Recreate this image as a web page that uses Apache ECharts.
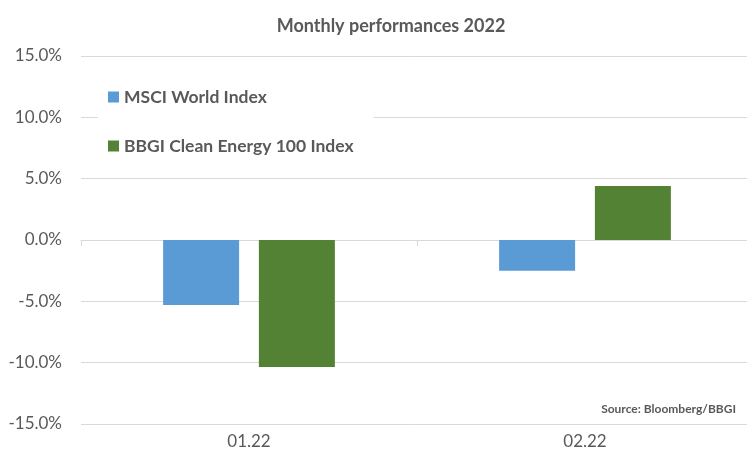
<!DOCTYPE html>
<html>
<head>
<meta charset="utf-8">
<script src="https://cdn.jsdelivr.net/npm/echarts@6/dist/echarts.min.js"></script>
<style>
  html, body { margin: 0; padding: 0; background: #fff; }
  #chart { width: 747px; height: 459px; }
</style>
</head>
<body>
<div id="chart"></div>
<script>
// monthly performance, in %
var months = ['01.22', '02.22'];
var msciWorld = [-5.3, -2.5];
var bbgiCleanEnergy = [-10.35, 4.4];
var seriesNames = ['MSCI World Index', 'BBGI Clean Energy 100 Index'];

var textColor = '#595959';
var fontName = 'Lato';

var myChart = echarts.init(document.getElementById('chart'));
var option = {
    backgroundColor: '#ffffff',
    animation: false,
    title: {
        text: 'Monthly performances 2022',
        left: 386,
        textAlign: 'center',
        top: 12,
        textStyle: { color: textColor, fontFamily: fontName, fontSize: 18, fontWeight: 'bold' }
    },
    legend: {
        data: seriesNames,
        orient: 'vertical',
        left: 98,
        top: 80,
        itemWidth: 11,
        itemHeight: 11,
        itemGap: 31,
        icon: 'rect',
        backgroundColor: '#ffffff',
        padding: [8, 20, 8, 10],
        textStyle: { color: textColor, fontFamily: fontName, fontSize: 17.5, fontWeight: 'bold' }
    },
    grid: { left: 81, width: 672, top: 56, bottom: 35, outerBoundsMode: 'none' },
    xAxis: [
        {
            type: 'category',
            data: months,
            axisLine: { show: false, onZero: false },
            axisTick: { show: false },
            axisLabel: { color: textColor, fontFamily: fontName, fontSize: 17, margin: 9 }
        },
        {
            // zero line with the small category ticks
            type: 'category',
            data: months,
            position: 'top',
            axisLine: { show: true, onZero: true, lineStyle: { color: '#d9d9d9', width: 1 } },
            axisTick: { show: true, inside: true, length: 6, lineStyle: { color: '#d9d9d9' } },
            axisLabel: { show: false }
        }
    ],
    yAxis: {
        type: 'value',
        min: -15,
        max: 15,
        interval: 5,
        axisLine: { show: false },
        axisTick: { show: false },
        splitLine: { lineStyle: { color: '#d9d9d9', width: 1 } },
        axisLabel: {
            color: textColor, fontFamily: fontName, fontSize: 17, margin: 19,
            formatter: function (v) { return v.toFixed(1) + '%'; }
        }
    },
    series: [
        {
            name: seriesNames[0],
            type: 'bar',
            data: msciWorld,
            barWidth: 76,
            barGap: '26%',
            itemStyle: { color: '#5b9bd5' }
        },
        {
            name: seriesNames[1],
            type: 'bar',
            data: bbgiCleanEnergy,
            barWidth: 76,
            itemStyle: { color: '#548235' }
        }
    ],
    graphic: [
        {
            type: 'text',
            right: 11,
            top: 403,
            style: {
                text: 'Source: Bloomberg/BBGI',
                fill: textColor,
                font: 'bold 12px ' + fontName
            }
        }
    ]
};
myChart.setOption(option);
</script>
</body>
</html>
